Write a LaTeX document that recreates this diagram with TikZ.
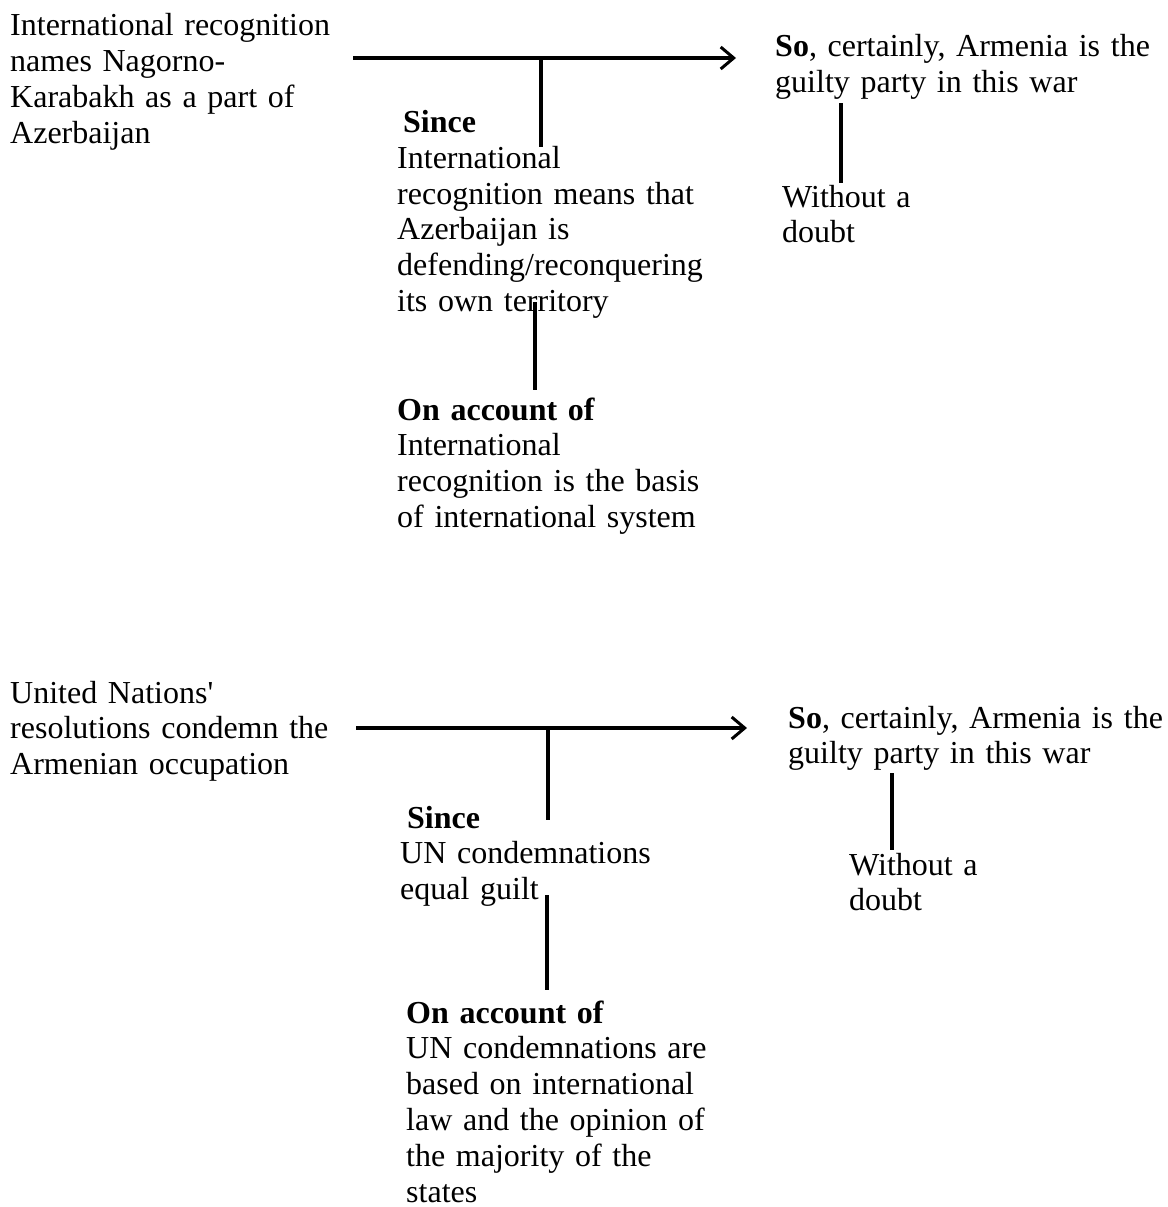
\documentclass[tikz,border=0pt]{standalone}
\usepackage{fontspec}
\setmainfont{Liberation Serif}
\usetikzlibrary{arrows.meta}
\begin{document}
\begin{tikzpicture}[x=1pt,y=-1pt,
  txt/.style={anchor=base west,inner sep=0pt,text width=420pt,align=left,
    font=\fontsize{32}{35.8}\selectfont},
  conn/.style={line width=3.2pt,draw=black},
  arr/.style={conn,-{Straight Barb[length=13pt,width=22pt,line width=3pt]}}]
\useasboundingbox (0,0) rectangle (1167,1207);
% ---------- first argument ----------
\node[txt] (d1) at (10,36) {International recognition\\names Nagorno-\\Karabakh as a part of\\Azerbaijan};
\node[txt] (c1) at (775,57) {\textbf{So}, certainly, Armenia is the\\guilty party in this war};
\node[txt] (w1) at (397,132.5) {\hspace*{6pt}\textbf{Since}\\International\\recognition means that\\Azerbaijan is\\defending/reconquering\\its own territory};
\node[txt] (b1) at (397,420) {\textbf{On account of}\\International\\recognition is the basis\\of international system};
\node[txt] (q1) at (782,207) {Without a\\doubt};
\coordinate (a1s) at (353,58);
\coordinate (a1e) at (736,58);
\coordinate (w1t) at (541,58);
\coordinate (w1b) at (541,147);
\coordinate (b1t) at (535,302);
\coordinate (b1b) at (535,390);
\coordinate (q1t) at (841,103);
\coordinate (q1b) at (841,183);
\draw[arr] (a1s) -- (a1e);
\draw[conn] (w1t) -- (w1b);
\draw[conn] (b1t) -- (b1b);
\draw[conn] (q1t) -- (q1b);
% ---------- second argument ----------
\node[txt] (d2) at (10,703) {United Nations\textquotesingle\\resolutions condemn the\\Armenian occupation};
\node[txt] (c2) at (788,728) {\textbf{So}, certainly, Armenia is the\\guilty party in this war};
\node[txt] (w2) at (400,828) {\hspace*{7pt}\textbf{Since}\\UN condemnations\\equal guilt};
\node[txt] (b2) at (406,1023) {\textbf{On account of}\\UN condemnations are\\based on international\\law and the opinion of\\the majority of the\\states};
\node[txt] (q2) at (849,875) {Without a\\doubt};
\coordinate (a2s) at (356,728);
\coordinate (a2e) at (747,728);
\coordinate (w2t) at (548,728);
\coordinate (w2b) at (548,820);
\coordinate (b2t) at (547,895);
\coordinate (b2b) at (547,990);
\coordinate (q2t) at (892,773);
\coordinate (q2b) at (892,850);
\draw[arr] (a2s) -- (a2e);
\draw[conn] (w2t) -- (w2b);
\draw[conn] (b2t) -- (b2b);
\draw[conn] (q2t) -- (q2b);
\end{tikzpicture}
\end{document}
